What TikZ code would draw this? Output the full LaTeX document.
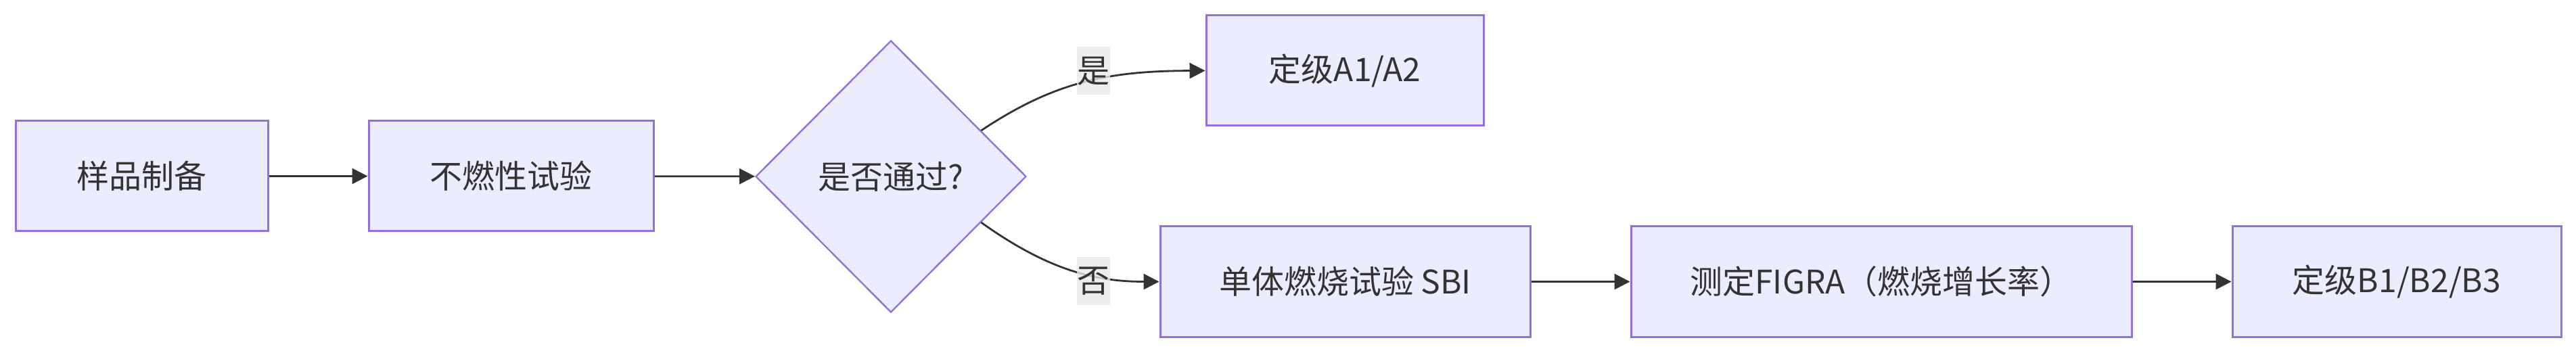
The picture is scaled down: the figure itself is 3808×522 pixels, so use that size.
\documentclass[tikz,border=0pt]{standalone}
\usepackage{fontspec}
\setmainfont{Noto Sans CJK SC}
\usepackage{tikz}
\usetikzlibrary{shapes.geometric,arrows.meta}
\definecolor{nodefill}{HTML}{ECECFF}
\definecolor{nodeline}{HTML}{9370DB}
\definecolor{edgeline}{HTML}{333333}
\definecolor{labelbg}{HTML}{E8E8E8}
\tikzset{
stepbox/.style={
	draw=nodeline,
	fill=nodefill,
	rectangle,
	minimum height=40.75pt,
	inner sep=0pt,
	line width=0.75pt,
	text=edgeline,
	font=\fontsize{12}{14}\selectfont
}
}
\tikzset{
choice/.style={
	draw=nodeline,
	fill=nodefill,
	diamond,
	minimum width=100pt,
	minimum height=100.5pt,
	inner sep=0pt,
	line width=0.6pt,
	text=edgeline,
	font=\fontsize{12}{14}\selectfont
}
}
\tikzset{
elabel/.style={
	fill=labelbg,
	fill opacity=0.8,
	text opacity=1,
	text=edgeline,
	minimum width=12.25pt,
	minimum height=17.75pt,
	inner sep=0pt,
	font=\fontsize{12}{14}\selectfont
}
}
\tikzset{
flow/.style={
	draw=edgeline,
	line width=0.7pt,
	-{Triangle[length=5.75pt,width=5.75pt]}
}
}

\begin{document}
\begin{tikzpicture}[x=0.25pt,y=-0.25pt]
		\useasboundingbox (0,0) rectangle (3808,522);
		\node[stepbox,minimum width=93.25pt] (prep) at (209.5,260.5) {样品制备};
		\node[stepbox,minimum width=105.25pt] (noncomb) at (755.5,260.5) {不燃性试验};
		\node[choice] (pass) at (1317,261) {是否通过?};
		\node[stepbox,minimum width=102.5pt] (gradeA) at (1988,104.5) {定级A1/A2};
		\node[stepbox,minimum width=136.75pt] (sbi) at (1988.5,416.5) {单体燃烧试验 SBI};
		\node[stepbox,minimum width=185pt] (figra) at (2781,416.5) {测定FIGRA（燃烧增长率）};
		\node[stepbox,minimum width=121.5pt] (gradeB) at (3543,416.5) {定级B1/B2/B3};
		% edges
		\draw[flow] (prep) -- (noncomb);
		\draw[flow] (noncomb) -- (pass);
		\draw[flow] (pass.27) .. controls (1560,120) and (1640,105) .. (gradeA.west);
		\draw[flow] (pass.-27) .. controls (1550,400) and (1620,416.5) .. (sbi.west);
		\draw[flow] (sbi) -- (figra);
		\draw[flow] (figra) -- (gradeB);
		\node[elabel] (yes) at (1616,105) {是};
		\node[elabel] (no) at (1616,416) {否};
		\end{tikzpicture}
\end{document}
